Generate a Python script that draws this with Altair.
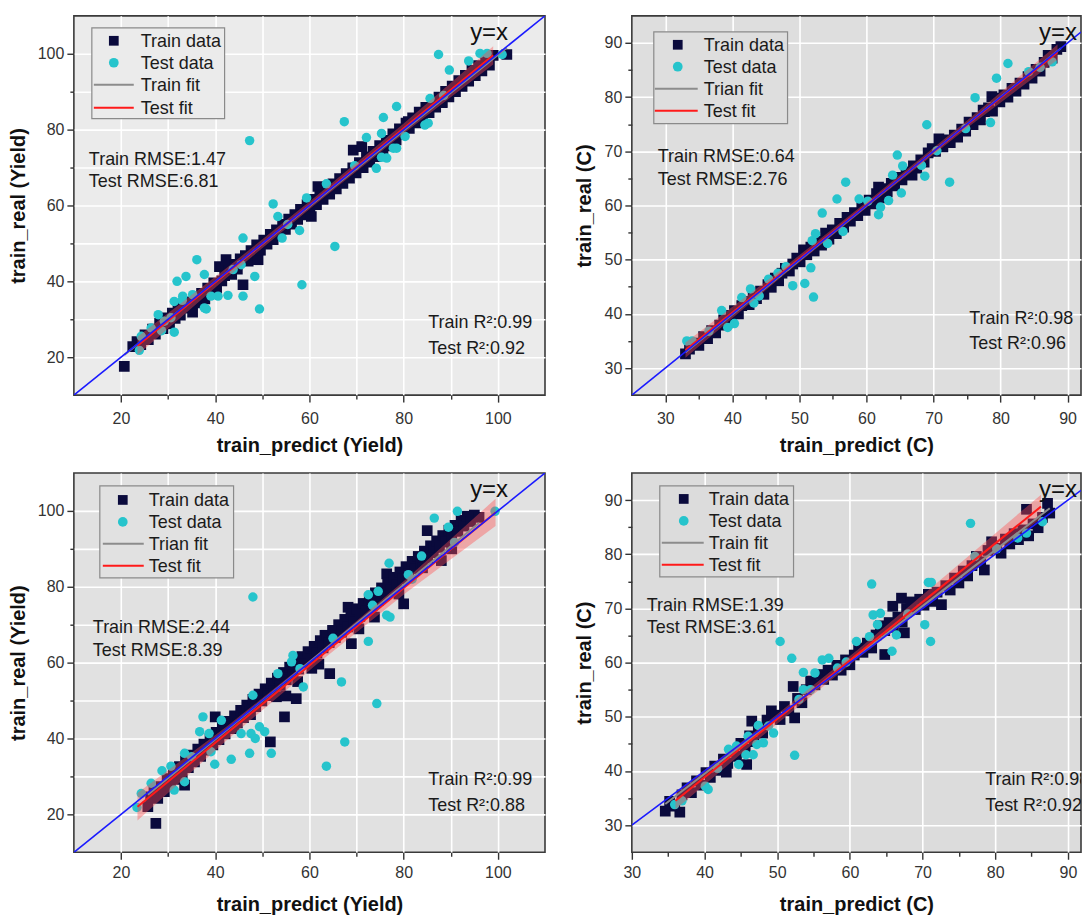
import altair as alt
import pandas as pd

FONT = "Liberation Sans, Arial, Helvetica, sans-serif"
NAVY = "#0a0a3c"
CYAN = "#26c4cc"
BAND = "#ff4d4d"
RED = "#ff1a1a"
GRAY = "#8c8c8c"
BLUE = "#1a1aff"

# ---------------- data ----------------
# panel 1 : Yield, model A
p1_train = [(20.7,17.6),(22.5,22.8),(23.4,24.1),(24.2,23.3),(25.1,25.9),(25.8,24.6),(26.7,27.4),(27.3,26.1),(28.2,28.9),(28.9,27.5),
            (29.6,30.4),(30.3,28.8),(30.9,31.6),(31.5,30.2),(32.1,33.8),(32.6,31.1),(33.2,32.9),(33.9,34.6),(34.5,33.2),(35.2,31.9),
            (35.8,35.9),(36.4,34.3),(37.1,36.8),(37.8,35.4),(38.4,38.2),(39.0,37.1),(39.7,39.6),(40.3,38.2),(40.9,43.9),(41.4,40.1),
            (42.0,41.5),(42.3,45.7),(42.8,42.9),(43.5,41.8),(44.1,44.5),(44.7,43.2),(45.3,45.9),(45.9,39.1),(46.4,46.8),(47.0,45.3),
            (47.6,48.1),(48.2,47.0),(48.8,49.6),(49.1,45.7),(49.6,48.2),(50.3,50.9),(51.0,49.8),(51.7,52.4),(52.3,51.0),(53.0,53.6),
            (53.6,52.2),(54.3,55.0),(54.9,53.7),(55.6,56.4),(56.2,55.1),(56.9,57.6),(57.5,56.3),(58.1,59.0),(58.8,57.5),(59.5,60.2),
            (60.1,58.9),(60.4,57.1),(60.8,61.6),(61.5,60.2),(61.8,65.0),(62.2,62.9),(62.9,61.6),(63.6,64.3),(64.3,63.0),(65.0,65.7),
            (65.7,64.4),(66.4,67.1),(67.1,65.8),(67.8,68.4),(68.5,67.2),(69.3,74.6),(69.2,69.9),(69.9,68.6),(70.6,71.3),(71.1,75.5),
            (71.4,70.0),(72.1,72.8),(72.8,71.4),(73.5,74.3),(74.2,72.9),(74.9,75.8),(75.6,74.3),(76.3,77.2),(77.0,75.7),(77.7,78.9),
            (78.4,77.3),(79.1,80.2),(79.8,78.8),(80.5,81.7),(81.0,82.1),(81.2,80.3),(81.9,83.1),(82.6,81.8),(83.3,84.6),(84.0,83.2),
            (84.7,85.9),(85.4,84.5),(86.1,87.3),(86.8,85.9),(87.5,88.6),(88.1,87.4),(88.2,87.1),(88.9,90.1),(89.6,88.6),(90.3,91.5),
            (91.0,90.0),(91.7,92.9),(92.4,91.4),(93.1,94.3),(93.8,92.8),(94.5,95.6),(95.2,94.2),(95.9,96.9),(96.6,95.5),(97.4,98.4),
            (98.2,97.0),(99.0,99.6),(101.9,99.8)]
p1_test = [(87.4,99.8),(89.7,95.7),(93.8,98.1),(96.2,100.1),(97.7,100.1),(100.9,99.8),(78.5,86.1),(85.6,88.2),(85.2,81.7),(84.5,81.2),
           (67.4,82.1),(75.7,83.2),(72.1,77.9),(75.3,79.0),(80.3,78.2),(77.8,75.1),(78.5,75.1),(75.3,72.7),(76.4,72.5),(74.2,69.8),
           (47.3,77.1),(52.3,60.4),(53.3,57.1),(54.2,51.4),(57.9,53.4),(59.4,62.0),(63.6,65.7),(65.4,49.2),(58.4,39.1),(45.9,51.4),
           (48.4,41.3),(45.9,36.1),(49.4,32.7),(42.7,36.3),(40.6,36.1),(39.1,36.1),(38.1,32.7),(37.7,41.8),(36.1,45.7),(33.8,41.3),
           (31.9,40.0),(33.1,36.1),(31.3,34.7),(31.3,26.6),(27.9,31.2),(26.4,27.7),(24.3,25.5),(23.9,21.8),(37.7,33.0),(43.8,43.1),
           (45.5,44.4),(30.6,30.4),(29.2,29.5),(35.2,36.5),(28.6,27.0),(33.0,35.0),(69.6,70.5),(88.5,89.0),(55.4,55.0)]
p1_fit_train_x = [20.7, 101.9]
p1_fit_train_y = [20.6, 101.6]
p1_fit_test_x = [23.5, 99.0]
p1_fit_test_y = [23.0, 99.6]
p1_band_x = [23.5, 42.0, 61.0, 80.0, 99.0]
p1_band_lo = [20.6, 40.5, 60.05, 79.0, 97.2]
p1_band_hi = [25.4, 43.1, 62.05, 81.6, 102.0]

# panel 2 : C, model A
p2_train = [(33.0,32.6),(33.6,33.5),(34.3,34.6),(35.0,34.2),(35.7,35.8),(36.3,35.4),(36.9,36.9),(37.5,36.5),(38.1,37.9),(38.7,38.9),
            (39.2,38.3),(39.8,39.7),(40.3,40.6),(40.9,40.0),(41.4,41.5),(42.0,42.3),(42.5,41.7),(43.1,43.2),(43.6,42.8),(44.2,44.2),
            (44.7,43.6),(45.3,45.4),(45.8,44.9),(46.4,46.6),(46.9,46.1),(47.4,47.5),(47.9,48.4),(48.5,47.9),(49.0,49.2),(49.6,50.3),
            (50.1,49.6),(50.6,51.8),(51.1,50.9),(51.7,52.3),(52.2,51.6),(52.8,53.4),(53.3,52.7),(53.9,54.9),(54.4,53.8),(54.9,55.5),
            (55.5,54.8),(56.0,56.7),(56.6,56.0),(57.1,57.8),(57.6,57.1),(58.2,58.7),(58.7,58.1),(59.3,59.9),(59.8,59.1),(60.4,61.0),
            (60.9,60.3),(61.5,62.2),(61.8,63.4),(62.0,61.4),(62.6,63.1),(63.1,62.5),(63.7,64.1),(64.2,63.6),(64.8,65.2),(65.3,64.7),
            (65.9,66.2),(66.4,65.8),(66.8,65.6),(67.0,67.3),(67.5,66.9),(68.1,68.4),(68.6,68.0),(69.2,69.7),(69.8,70.5),(70.3,70.0),
            (70.8,72.3),(70.9,71.2),(71.4,70.8),(72.0,72.1),(72.5,71.6),(73.1,73.0),(73.6,72.6),(74.2,74.1),(74.8,73.7),(75.3,75.4),
            (75.9,74.9),(76.5,76.2),(77.0,75.8),(77.4,77.6),(77.6,77.3),(78.2,78.0),(78.7,80.1),(78.8,77.4),(79.3,79.8),(79.9,79.1),
            (80.5,80.4),(81.1,80.0),(81.7,81.6),(82.3,81.1),(82.9,82.6),(83.5,82.4),(84.1,83.8),(84.7,83.5),(85.3,85.1),(85.9,84.8),
            (86.5,86.4),(87.1,87.7),(87.7,87.2),(88.4,88.8),(89.0,89.3)]
p2_test = [(81.1,86.2),(79.4,83.5),(76.2,79.9),(78.5,75.3),(87.7,86.5),(84.2,84.7),(69.0,74.9),(72.4,64.3),(68.7,65.4),(64.6,69.3),
           (65.4,67.3),(68.2,67.4),(65.2,62.3),(56.9,64.3),(55.6,61.2),(53.4,58.6),(58.9,61.2),(62.1,59.7),(61.8,58.3),(63.3,60.9),
           (63.9,65.6),(56.5,55.2),(51.9,53.5),(52.4,54.8),(51.7,48.5),(50.8,45.6),(52.1,43.1),(49.0,45.2),(48.0,48.7),(45.4,46.4),
           (44.0,43.3),(42.7,44.6),(41.4,43.0),(40.3,38.2),(39.3,37.5),(38.4,40.6),(33.2,35.0),(34.0,35.0),(70.5,70.1),(74.8,74.2),
           (60.2,60.8),(46.8,47.5),(36.5,36.8),(43.2,42.0),(54.2,53.0),(85.9,85.5)]
p2_fit_train_x = [33.0, 89.0]
p2_fit_train_y = [32.9, 89.0]
p2_fit_test_x = [33.0, 88.5]
p2_fit_test_y = [33.3, 88.3]
p2_band_x = [33.0, 47.0, 61.0, 75.0, 88.5]
p2_band_lo = [31.9, 46.5, 60.6, 74.3, 86.9]
p2_band_hi = [34.7, 47.9, 61.6, 75.7, 89.7]

# panel 3 : Yield, model B
p3_train = [(25.7,22.0),(26.3,24.6),(27.4,17.6),(27.0,25.8),(27.8,24.2),(28.5,27.3),(29.2,26.0),(29.8,29.4),(30.5,27.7),(31.1,30.9),
            (31.7,29.2),(32.4,32.6),(33.0,30.7),(33.5,27.7),(33.7,34.1),(34.3,32.3),(35.0,35.6),(35.6,33.8),(36.3,37.2),(36.9,35.3),
            (37.6,38.5),(38.0,38.0),(38.2,36.9),(38.9,40.0),(39.5,38.3),(40.0,45.7),(40.2,41.6),(40.8,39.7),(41.5,43.0),(42.1,41.2),
            (42.8,44.5),(43.4,42.6),(44.0,43.0),(44.1,46.0),(44.7,44.1),(45.4,47.4),(46.0,45.5),(46.7,48.8),(47.3,47.0),(47.5,46.3),
            (48.0,50.3),(48.6,48.4),(49.3,51.7),(49.9,49.9),(50.6,53.1),(51.2,51.3),(51.7,39.1),(51.9,54.6),(52.5,52.6),(53.0,51.0),
            (53.2,55.9),(53.8,54.0),(54.5,57.4),(54.7,45.7),(55.0,51.2),(55.1,55.5),(55.8,58.8),(56.4,56.9),(57.1,60.2),(57.2,50.5),
            (57.5,55.0),(57.7,58.3),(58.4,61.6),(59.0,59.7),(59.7,62.9),(60.3,61.1),(60.5,58.5),(61.0,64.3),(61.6,62.5),(62.0,59.6),
            (62.3,65.8),(62.9,63.9),(63.3,67.2),(63.6,67.2),(64.2,65.3),(64.3,57.1),(64.9,68.5),(65.5,66.6),(66.2,70.0),(66.8,68.0),
            (67.5,71.4),(68.1,69.4),(68.2,74.6),(68.8,72.9),(68.9,65.0),(69.4,70.8),(70.1,74.2),(70.5,68.9),(70.7,72.2),(71.4,75.6),
            (72.0,73.6),(72.7,77.0),(73.3,75.0),(73.8,72.0),(74.0,78.4),(74.6,76.4),(75.3,79.7),(75.9,77.8),(76.4,83.4),(76.6,81.1),
            (77.2,79.2),(77.9,82.5),(78.5,80.6),(79.0,78.1),(79.2,83.9),(79.8,82.0),(80.0,75.5),(80.5,85.3),(81.1,83.4),(81.8,86.7),
            (82.4,84.8),(83.1,88.0),(83.7,86.2),(84.0,85.0),(84.4,89.4),(85.0,94.8),(85.1,87.6),(85.7,90.8),(86.3,89.0),(86.5,90.4),
            (87.0,92.1),(87.6,90.4),(88.0,86.9),(88.3,93.5),(88.9,91.8),(89.6,94.9),(90.2,90.0),(90.2,93.2),(90.9,96.2),(91.5,94.6),
            (92.2,97.5),(92.8,96.0),(93.5,98.6),(94.2,97.2),(95.0,98.9),(96.0,98.3)]
p3_test = [(86.5,98.1),(91.4,99.9),(89.5,95.7),(99.4,99.9),(83.8,88.1),(76.9,86.2),(81.0,83.2),(72.5,77.9),(74.6,78.8),(73.4,75.1),
           (76.4,72.5),(77.1,72.0),(72.5,65.6),(48.0,77.3),(56.5,61.9),(56.2,60.2),(53.3,57.1),(58.7,53.6),(48.0,51.4),(66.8,54.9),
           (74.3,49.2),(67.5,39.1),(63.6,32.7),(51.9,36.1),(47.3,36.1),(43.4,34.5),(39.9,33.2),(45.5,41.3),(47.6,41.3),(48.5,40.0),
           (49.4,43.1),(50.5,41.8),(41.3,44.8),(38.7,41.3),(37.4,45.7),(36.7,41.8),(39.1,36.5),(33.5,36.1),(33.5,28.6),(31.3,26.4),
           (30.6,32.7),(28.7,31.5),(26.4,28.2),(24.3,25.5),(23.4,21.8),(81.8,82.0),(65.0,66.4),(58.0,58.4),(35.0,35.2),(90.8,91.7)]
p3_fit_train_x = [25.7, 96.0]
p3_fit_train_y = [25.2, 96.8]
p3_fit_test_x = [23.5, 99.5]
p3_fit_test_y = [22.0, 99.6]
p3_band_x = [23.5, 42.5, 61.5, 80.5, 99.5]
p3_band_lo = [18.4, 39.6, 59.5, 78.4, 96.0]
p3_band_hi = [25.6, 43.2, 62.1, 82.0, 103.2]

# panel 4 : C, model B
p4_train = [(34.6,32.6),(35.2,34.4),(35.9,33.5),(36.6,32.4),(36.9,35.6),(37.6,36.9),(38.2,36.0),(38.9,38.2),(39.5,37.4),(40.2,39.7),
            (40.8,38.8),(41.4,40.9),(42.0,40.1),(42.6,42.2),(43.0,39.8),(43.2,41.4),(43.8,43.6),(44.4,42.7),(45.0,45.1),(45.6,44.0),
            (45.8,41.2),(46.2,46.5),(46.5,49.2),(46.8,45.4),(47.4,47.9),(48.0,47.0),(48.6,49.4),(49.2,51.1),(49.8,50.3),(50.4,49.5),
            (51.0,51.9),(51.6,51.1),(52.2,55.6),(52.4,49.8),(52.8,53.4),(53.4,52.6),(54.0,55.0),(54.6,56.6),(55.2,55.9),(55.8,57.8),
            (56.4,56.9),(57.0,58.6),(57.6,57.7),(58.2,59.5),(58.8,58.6),(59.4,60.5),(60.0,59.6),(60.6,61.4),(61.2,62.7),(61.8,61.9),
            (62.4,63.6),(63.0,62.7),(63.6,65.1),(64.2,66.8),(64.8,61.5),(64.8,65.9),(65.4,67.4),(65.9,70.4),(66.0,66.5),(66.6,68.4),
            (67.1,71.9),(67.2,67.5),(67.5,65.5),(67.8,70.0),(68.4,71.2),(69.0,69.8),(69.6,71.7),(70.2,70.6),(70.8,72.6),(71.4,71.3),
            (72.0,73.0),(72.6,70.7),(73.2,74.2),(73.8,73.4),(74.4,75.6),(75.0,74.7),(75.6,76.9),(76.2,76.0),(76.8,77.9),(77.4,79.6),
            (78.0,78.6),(78.5,77.1),(79.0,80.7),(79.5,82.3),(80.2,81.1),(80.8,80.2),(81.4,82.8),(82.0,81.9),(82.6,83.8),(83.2,82.7),
            (83.8,84.5),(84.3,88.3),(84.6,83.4),(85.2,85.6),(85.9,84.9),(86.5,86.8),(87.2,89.4),(87.5,87.6)]
p4_test = [(76.6,85.7),(86.5,86.0),(83.1,83.0),(84.3,83.9),(77.2,79.6),(63.0,74.5),(70.8,74.8),(71.2,74.8),(63.2,68.8),(64.2,69.1),
           (63.8,67.0),(70.3,67.0),(71.1,63.9),(66.4,65.1),(65.8,62.1),(60.9,63.9),(62.7,64.8),(50.4,63.9),(52.0,60.8),(53.6,58.2),
           (56.2,60.5),(57.1,60.8),(58.3,59.0),(55.2,58.1),(54.6,55.0),(53.0,53.2),(53.6,55.0),(52.4,42.9),(47.4,48.4),(48.8,48.3),
           (49.5,47.0),(48.1,45.2),(47.2,44.9),(46.7,43.0),(45.7,43.0),(44.7,41.2),(44.4,44.6),(43.3,44.0),(46.0,46.4),(40.5,36.6),
           (40.1,37.2),(35.9,33.8),(36.9,34.5),(41.8,40.5),(59.5,60.1),(68.0,69.0),(80.2,81.0)]
p4_fit_train_x = [34.6, 87.5]
p4_fit_train_y = [33.9, 88.5]
p4_fit_test_x = [36.0, 86.3]
p4_fit_test_y = [34.5, 88.8]
p4_band_x = [36.0, 48.6, 61.2, 73.7, 86.3]
p4_band_lo = [32.9, 47.2, 60.9, 73.7, 86.6]
p4_band_hi = [36.1, 49.0, 62.5, 76.7, 91.0]

legend_labels_a = ["Train data", "Test data", "Train fit", "Test fit"]
legend_labels_b = ["Train data", "Test data", "Trian fit", "Test fit"]

stats = {
    "p1": ("Train RMSE:1.47", "Test RMSE:6.81", "Train R\u00b2:0.99", "Test R\u00b2:0.92"),
    "p2": ("Train RMSE:0.64", "Test RMSE:2.76", "Train R\u00b2:0.98", "Test R\u00b2:0.96"),
    "p3": ("Train RMSE:2.44", "Test RMSE:8.39", "Train R\u00b2:0.99", "Test R\u00b2:0.88"),
    "p4": ("Train RMSE:1.39", "Test RMSE:3.61", "Train R\u00b2:0.98", "Test R\u00b2:0.92"),
}


def one():
    return alt.Data(values=[{"k": 0}])


def make_axis(title, lo, hi, step, lab_step, extent, tpad, lpad):
    # ticks strictly inside the domain, plus the lower edge when it carries a label
    vals = [v for v in range(0, 200, step) if (lo < v < hi) or (v == lo and v % lab_step == 0)]
    return alt.Axis(
        title=title, values=vals,
        labelExpr=f"datum.value % {lab_step} === 0 ? datum.label : ''",
        tickSize={"condition": {"test": f"datum.value % {lab_step} === 0", "value": 7}, "value": 4},
        gridOpacity={"condition": {"test": f"datum.value % 10 === 0 && datum.value > {lo}", "value": 1},
                     "value": 0},
        grid=True, gridColor="white", gridWidth=1.6,
        domain=False, ticks=True, tickColor="#333333", tickWidth=1.4,
        labelFont=FONT, labelFontSize=16, labelColor="#333333", labelPadding=lpad,
        labelOverlap=False, labelFlush=False,
        titleFont=FONT, titleFontSize=20, titleFontWeight="bold", titleColor="#111111",
        titlePadding=tpad, minExtent=extent, maxExtent=extent,
    )


def panel(train, test, fit_tr, fit_te, band, xdom, ydom, step, lab,
          xtitle, ytitle, yext, xlpad, xtpad, bg, w, h, leg, labels, st, txt):
    xaxis = make_axis(xtitle, xdom[0], xdom[1], step, lab, 31, xtpad, xlpad)
    yaxis = make_axis(ytitle, ydom[0], ydom[1], step, lab, yext, 4, 3)
    xs = alt.Scale(domain=xdom, nice=False, zero=False)
    ys = alt.Scale(domain=ydom, nice=False, zero=False)

    def X(f):
        return alt.X(f"{f}:Q", scale=xs, axis=xaxis, title=xtitle)

    def Y(f):
        return alt.Y(f"{f}:Q", scale=ys, axis=yaxis, title=ytitle)

    tr = pd.DataFrame(train, columns=["x", "y"])
    te = pd.DataFrame(test, columns=["x", "y"])
    ftr = pd.DataFrame({"x": fit_tr[0], "y": fit_tr[1]})
    fte = pd.DataFrame({"x": fit_te[0], "y": fit_te[1]})
    bd = pd.DataFrame({"x": band[0], "lo": band[1], "hi": band[2]})
    lo = max(xdom[0], ydom[0])
    hi = min(xdom[1], ydom[1])
    ident = pd.DataFrame({"x": [lo, hi], "y": [lo, hi]})

    layers = [
        alt.Chart(tr).mark_point(shape="square", filled=True, size=115, color=NAVY, opacity=1, clip=True)
        .encode(x=X("x"), y=Y("y")),
        alt.Chart(te).mark_circle(size=90, color=CYAN, opacity=1, clip=True).encode(x=X("x"), y=Y("y")),
        alt.Chart(bd).mark_area(color=BAND, opacity=0.4, clip=True)
        .encode(x=X("x"), y=Y("lo"), y2=alt.Y2("hi:Q")),
        alt.Chart(ftr).mark_line(color=GRAY, strokeWidth=2, clip=True).encode(x=X("x"), y=Y("y")),
        alt.Chart(fte).mark_line(color=RED, strokeWidth=2, clip=True).encode(x=X("x"), y=Y("y")),
        alt.Chart(ident).mark_line(color=BLUE, strokeWidth=1.6, clip=True).encode(x=X("x"), y=Y("y")),
    ]
    # legend
    bx0, by0, bx1, by1, sx, tx, lx0, lx1, rows = leg
    layers.append(alt.Chart(one()).mark_rect(fill=bg, stroke="#8a8a8a", strokeWidth=1.2)
                  .encode(x=alt.value(bx0), x2=alt.value(bx1), y=alt.value(by0), y2=alt.value(by1)))
    layers.append(alt.Chart(one()).mark_point(shape="square", filled=True, size=95, color=NAVY, opacity=1)
                  .encode(x=alt.value(sx), y=alt.value(rows[0] - 6)))
    layers.append(alt.Chart(one()).mark_circle(size=95, color=CYAN, opacity=1)
                  .encode(x=alt.value(sx), y=alt.value(rows[1] - 6)))
    layers.append(alt.Chart(one()).mark_rule(color=GRAY, strokeWidth=2)
                  .encode(x=alt.value(lx0), x2=alt.value(lx1), y=alt.value(rows[2] - 6)))
    layers.append(alt.Chart(one()).mark_rule(color=RED, strokeWidth=2)
                  .encode(x=alt.value(lx0), x2=alt.value(lx1), y=alt.value(rows[3] - 6)))
    for labtxt, r in zip(labels, rows):
        layers.append(alt.Chart(one()).mark_text(align="left", baseline="alphabetic", font=FONT,
                                                 fontSize=18, color="#1a1a1a", text=labtxt)
                      .encode(x=alt.value(tx), y=alt.value(r)))
    # statistics text
    (rx, ry1, ry2), (qx, qy1, qy2), (ex, ey) = txt
    for s, (px, py) in zip(st, [(rx, ry1), (rx, ry2), (qx, qy1), (qx, qy2)]):
        layers.append(alt.Chart(one()).mark_text(align="left", baseline="alphabetic", font=FONT,
                                                 fontSize=18, color="#1a1a1a", text=s, clip=True)
                      .encode(x=alt.value(px), y=alt.value(py)))
    layers.append(alt.Chart(one()).mark_text(align="left", baseline="alphabetic", font=FONT,
                                             fontSize=24, color="#111111", text="y=x", clip=True)
                  .encode(x=alt.value(ex), y=alt.value(ey)))
    return alt.layer(*layers).properties(
        width=w, height=h,
        view=alt.ViewBackground(fill=bg, stroke="#3a3a3a", strokeWidth=1.6),
    )


p1 = panel(p1_train, p1_test, (p1_fit_train_x, p1_fit_train_y), (p1_fit_test_x, p1_fit_test_y),
           (p1_band_x, p1_band_lo, p1_band_hi), [10, 110], [10, 110], 10, 20,
           "train_predict (Yield)", "train_real (Yield)", 41, 8, 9, "#ebebeb", 472, 380,
           (18, 12, 151, 103, 40, 67, 20, 60, [31, 53, 75, 98]), legend_labels_a, stats["p1"],
           ((15, 149, 171), (355, 313, 339), (397, 24)))
p2 = panel(p2_train, p2_test, (p2_fit_train_x, p2_fit_train_y), (p2_fit_test_x, p2_fit_test_y),
           (p2_band_x, p2_band_lo, p2_band_hi), [25, 92.0], [25, 95], 5, 10,
           "train_predict (C)", "train_real (C)", 33, 8, 9, "#dedede", 450, 380,
           (22, 16, 156, 108, 46, 72, 23, 66, [35, 57, 79, 101]), legend_labels_b, stats["p2"],
           ((26, 146, 169), (338, 309, 334), (408, 24)))
p3 = panel(p3_train, p3_test, (p3_fit_train_x, p3_fit_train_y), (p3_fit_test_x, p3_fit_test_y),
           (p3_band_x, p3_band_lo, p3_band_hi), [10, 110], [10, 110], 10, 20,
           "train_predict (Yield)", "train_real (Yield)", 41, 5, 11, "#e1e1e1", 472, 380,
           (26, 13, 160, 105, 49, 75, 29, 70, [33, 55, 77, 99]), legend_labels_b, stats["p3"],
           ((19, 160, 183), (355, 313, 339), (397, 24)))
p4 = panel(p4_train, p4_test, (p4_fit_train_x, p4_fit_train_y), (p4_fit_test_x, p4_fit_test_y),
           (p4_band_x, p4_band_lo, p4_band_hi), [30, 91.8], [25, 95], 5, 10,
           "train_predict (C)", "train_real (C)", 33, 5, 11, "#dcdcdc", 450, 380,
           (28, 13, 162, 104, 52, 77, 30, 72, [32, 54, 76, 98]), legend_labels_a, stats["p4"],
           ((15, 138, 160), (354, 313, 339), (408, 24)))

chart = alt.vconcat(
    alt.hconcat(p1, p2, spacing=28),
    alt.hconcat(p3, p4, spacing=28),
    spacing=16,
).properties(
    padding={"left": 0, "top": 6, "right": 0, "bottom": 0},
    background="white",
).configure(font=FONT)

chart.save("out.html", embed_options={"renderer": "svg", "actions": False})
